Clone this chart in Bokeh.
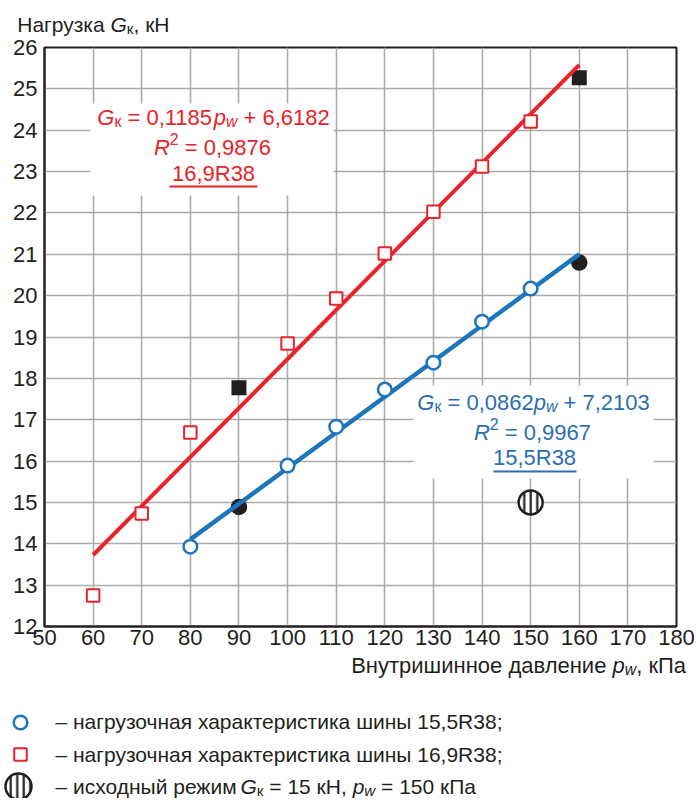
import numpy as np
from bokeh.plotting import figure
from bokeh.models import Label, BoxAnnotation, Range1d, FixedTicker
from bokeh.layouts import column
from bokeh.embed import file_html
from bokeh.resources import INLINE

# ---------------- data ----------------
pressure_169 = [60, 70, 80, 100, 110, 120, 130, 140, 150]
load_169 = [12.75, 14.73, 16.69, 18.84, 19.93, 21.02, 22.03, 23.12, 24.21]
pressure_169_black = [90, 160]
load_169_black = [17.77, 25.27]

pressure_155 = [80, 100, 110, 120, 130, 140, 150]
load_155 = [13.93, 15.89, 16.83, 17.73, 18.38, 19.37, 20.17]
pressure_155_black = [90, 160]
load_155_black = [14.89, 20.80]

fit_169 = (0.1185, 6.6182)      # slope, intercept (from the chart)
fit_169_span = [60, 160]
fit_155 = (0.0862, 7.2103)
fit_155_span = [80, 160]

base_pressure = [150]
base_load = [15]

x_ticks = list(range(50, 181, 10))
y_ticks = list(range(12, 27))

# ---------------- styles ----------------
RED = "#e8232a"
BLUE_LINE = "#1d75bc"
BLUE_TEXT = "#2a6fb3"
DARK = "#231f20"
GRID = "#ababab"
FONT = "Liberation Sans"

W = 696
TOP_H = 36           # strip holding the y title
MAIN_H = 618         # main chart
BOT_H = 144          # strip holding the x title and the legend
FRAME_L, FRAME_T, FRAME_W, FRAME_H = 44, 47, 632, 579   # page pixels
X0, X1, Y0, Y1 = 50, 180, 12, 26
FRAME_B = FRAME_T + FRAME_H
BASE = 6.5           # correction so that the given y is the text baseline


def dx(ix):
    return X0 + (ix - FRAME_L) * (X1 - X0) / FRAME_W


def dy(iy):
    return Y0 + (FRAME_B - iy) * (Y1 - Y0) / FRAME_H


CW = {**{d: 556 for d in "0123456789"}, ",": 278, " ": 278, "=": 584, "+": 584,
      "R": 722, "G": 778, "p": 556, "w": 722, "к": 438, "Н": 722, "П": 722,
      "а": 556, ";": 278, "–": 556}
SUB = 0.72


def tw(s, size):
    return sum(CW.get(c, 556) for c in s) * size / 1000.0


def lab(fig, x, y, text, size, color, align="left", italic=False, xo=0.0, yo=0.0):
    fig.add_layout(Label(
        x=x, y=y, x_offset=xo, y_offset=yo + BASE, text=text, text_font=FONT,
        text_font_size=f"{size:.1f}px", text_font_style="italic" if italic else "normal",
        text_color=color, text_baseline="alphabetic", text_align=align))


def rich(fig, x, y, pieces, size, color, align="left"):
    sizes = [size * SUB if st in ("sub", "isub", "sup") else size for _, st in pieces]
    widths = [tw(t, s) for (t, _), s in zip(pieces, sizes)]
    total = sum(widths)
    off = {"left": 0.0, "center": -total / 2.0, "right": -total}[align]
    for (t, st), s, w in zip(pieces, sizes, widths):
        lead = len(t) - len(t.lstrip(" "))
        core = t.strip(" ")
        if st in ("sub", "isub"):
            yo = -0.22 * size
        elif st == "sup":
            yo = 0.38 * size
        else:
            yo = 0.0
        lab(fig, x, y, core, s, color, "left", st in ("i", "isub"),
            off + lead * 278 * s / 1000.0, yo)
        off += w


def strip(height):
    f = figure(width=W, height=height, x_range=Range1d(0, W), y_range=Range1d(height, 0),
               output_backend="svg", toolbar_location=None, title=None,
               x_axis_type=None, y_axis_type=None, min_border=0)
    f.outline_line_color = None
    f.frame_align = False
    return f


# ---------------- top strip: y title ----------------
t = strip(TOP_H)
TS = 21
lab(t, 110, 30, "Нагрузка", TS, DARK, "right", xo=-278 * TS / 1000.0)
rich(t, 110, 30, [("G", "i"), ("к", "sub"), (", кН", "n")], TS, DARK, "left")

# ---------------- main figure ----------------
p = figure(width=W, height=MAIN_H, x_range=Range1d(X0, X1), y_range=Range1d(Y0, Y1),
           output_backend="svg", toolbar_location=None, title=None,
           min_border_left=FRAME_L, min_border_right=W - FRAME_L - FRAME_W,
           min_border_top=FRAME_T - TOP_H,
           min_border_bottom=MAIN_H - (FRAME_T - TOP_H) - FRAME_H)
p.frame_align = False

p.xaxis.ticker = FixedTicker(ticks=x_ticks)
p.yaxis.ticker = FixedTicker(ticks=y_ticks)
for ax in (p.xaxis[0], p.yaxis[0]):
    ax.major_label_text_font = FONT
    ax.major_label_text_font_size = "22px"
    ax.major_label_text_color = DARK
    ax.major_label_text_line_height = 1.0
    ax.major_tick_in = 0
    ax.major_tick_out = 0
    ax.minor_tick_in = 0
    ax.minor_tick_out = 0
    ax.axis_line_color = DARK
    ax.axis_line_width = 2
p.xaxis.major_label_standoff = 3
p.yaxis.major_label_standoff = 7

p.grid.grid_line_color = GRID
p.grid.grid_line_width = 1.6
p.outline_line_color = DARK
p.outline_line_width = 2
p.outline_line_alpha = 1

# white boxes behind the equations
p.add_layout(BoxAnnotation(left=dx(90), right=dx(333), top=dy(103), bottom=dy(195),
                           fill_color="white", fill_alpha=1, line_color=None, level="underlay"))
p.add_layout(BoxAnnotation(left=dx(413), right=dx(653), top=dy(385), bottom=dy(478),
                           fill_color="white", fill_alpha=1, line_color=None, level="underlay"))

# black (measured) points
p.scatter(pressure_169_black, load_169_black, marker="square", size=15,
          fill_color=DARK, line_color=None)
p.scatter(pressure_155_black, load_155_black, marker="circle", size=16.5,
          fill_color=DARK, line_color=None)

# regression lines
fx = np.array(fit_169_span, dtype=float)
p.line(fx, fit_169[0] * fx + fit_169[1], line_color=RED, line_width=4)
fx2 = np.array(fit_155_span, dtype=float)
p.line(fx2, fit_155[0] * fx2 + fit_155[1], line_color=BLUE_LINE, line_width=4.5)

# open markers
p.scatter(pressure_169, load_169, marker="square", size=12.5, fill_color="white",
          line_color=RED, line_width=2)
p.scatter(pressure_155, load_155, marker="circle", size=13.5, fill_color="white",
          line_color=BLUE_LINE, line_width=2.5)

# initial mode (hatched)
p.scatter(base_pressure, base_load, marker="circle", size=24, fill_color="white",
          line_color=DARK, line_width=2.5, hatch_pattern="vertical_line",
          hatch_color=DARK, hatch_weight=2.2, hatch_scale=6.5)

# equations
AS = 22
rich(p, dx(213), dy(123), [("G", "i"), ("к", "sub"), (" = 0,1185", "n"), ("p", "i"),
                           ("w", "isub"), (" + 6,6182", "n")], AS, RED, "center")
rich(p, dx(212), dy(153), [("R", "i"), ("2", "sup"), (" = 0,9876", "n")], AS, RED, "center")
rich(p, dx(213), dy(179), [("16,9R38", "n")], AS, RED, "center")
p.add_layout(BoxAnnotation(left=dx(169), right=dx(257), top=dy(185), bottom=dy(187),
                           fill_color=RED, fill_alpha=1, line_color=None))

rich(p, dx(533), dy(408), [("G", "i"), ("к", "sub"), (" = 0,0862", "n"), ("p", "i"),
                           ("w", "isub"), (" + 7,2103", "n")], AS, BLUE_TEXT, "center")
rich(p, dx(532), dy(438), [("R", "i"), ("2", "sup"), (" = 0,9967", "n")], AS, BLUE_TEXT, "center")
rich(p, dx(534), dy(463), [("15,5R38", "n")], AS, BLUE_TEXT, "center")
p.add_layout(BoxAnnotation(left=dx(493), right=dx(576), top=dy(470), bottom=dy(472),
                           fill_color=BLUE_TEXT, fill_alpha=1, line_color=None))

# ---------------- bottom strip: x title + legend ----------------
b = strip(BOT_H)
B0 = TOP_H + MAIN_H   # page y of the strip's top


def by(iy):
    return iy - B0


XS = 22
lab(b, 612, by(671), "Внутришинное давление", XS, DARK, "right", xo=-278 * XS / 1000.0)
rich(b, 612, by(671), [("p", "i"), ("w", "isub"), (", кПа", "n")], XS, DARK, "left")

LS = 21
b.scatter([20], [by(722)], marker="circle", size=13.5, fill_color="white",
          line_color=BLUE_LINE, line_width=2.5)
b.scatter([20], [by(754)], marker="square", size=12.5, fill_color="white",
          line_color=RED, line_width=2)
b.scatter([18], [by(786)], marker="circle", size=26, fill_color="white",
          line_color=DARK, line_width=2.5, hatch_pattern="vertical_line",
          hatch_color=DARK, hatch_weight=2.2, hatch_scale=6.5)

lab(b, 55, by(727), "– нагрузочная характеристика шины 15,5R38;", LS, DARK)
lab(b, 55, by(760), "– нагрузочная характеристика шины 16,9R38;", LS, DARK)
lab(b, 55, by(792), "– исходный режим", LS, DARK)
rich(b, 240, by(792), [("G", "i"), ("к", "sub"), (" = 15 кН, ", "n"), ("p", "i"),
                       ("w", "isub"), (" = 150 кПа", "n")], LS, DARK, "left")

layout = column(t, p, b)
open("out.html", "w").write(file_html(layout, INLINE))
